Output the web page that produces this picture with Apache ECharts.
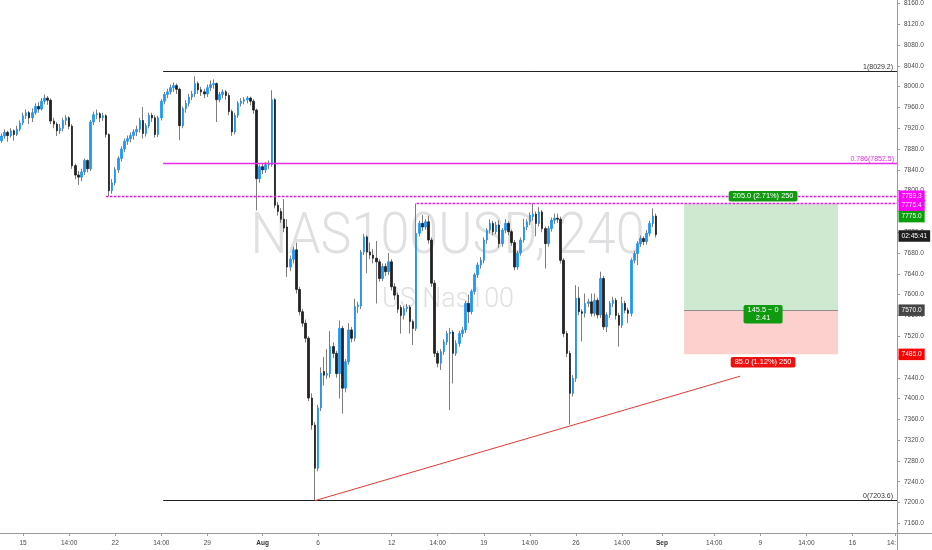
<!DOCTYPE html>
<html><head><meta charset="utf-8">
<script src="https://cdn.jsdelivr.net/npm/echarts@6/dist/echarts.min.js"></script>
<style>html,body{margin:0;padding:0;background:#fff}#c{width:932px;height:550px}</style>
</head><body><div id="c"></div>
<script>
// 4H candles: [open, close, low, high]
const candles = [
[7896,7905,7892,7910],[7905,7912,7900,7918],[7912,7906,7894,7915],[7906,7915,7902,7920],[7915,7908,7896,7918],
[7908,7918,7905,7925],[7918,7930,7914,7935],[7930,7944,7926,7950],[7944,7950,7938,7956],[7950,7940,7928,7953],
[7940,7950,7932,7958],[7950,7962,7946,7968],[7962,7957,7950,7970],[7957,7972,7954,7978],[7972,7978,7966,7985],
[7978,7974,7965,7982],[7974,7934,7928,7977],[7934,7928,7920,7940],[7928,7915,7905,7932],[7915,7920,7909,7928],
[7920,7935,7914,7940],[7935,7940,7926,7945],[7940,7924,7918,7943],[7924,7848,7842,7928],[7848,7830,7822,7852],
[7830,7826,7811,7838],[7826,7836,7818,7842],[7836,7858,7830,7862],[7858,7842,7835,7860],[7842,7932,7838,7936],
[7932,7946,7926,7952],[7946,7948,7938,7956],[7948,7940,7932,7951],[7940,7944,7934,7950],[7944,7908,7902,7947],
[7908,7800,7789.3,7910],[7800,7815,7794,7822],[7815,7840,7810,7845],[7840,7862,7834,7866],[7862,7880,7856,7885],
[7880,7895,7874,7900],[7895,7900,7888,7906],[7900,7906,7893,7912],[7906,7913,7898,7918],[7913,7918,7905,7925],
[7918,7935,7912,7940],[7935,7910,7900,7961],[7910,7925,7904,7930],[7925,7945,7920,7950],[7945,7940,7932,7950],
[7940,7908,7902,7945],[7908,7940,7903,7944],[7940,7972,7935,7976],[7972,7985,7966,7990],[7985,7990,7978,7996],
[7990,7998,7985,8004],[7998,8002,7990,8008],[8002,7995,7986,8006],[7995,7925,7897,7998],[7925,7958,7920,7962],
[7958,7968,7950,7974],[7968,7980,7962,7986],[7980,7986,7974,7992],[7986,8006,7980,8020],[8006,7994,7986,8010],
[7994,7990,7982,8000],[7990,7986,7978,7996],[7986,7998,7980,8004],[7998,8004,7992,8012],[8004,8006,7996,8014],
[8006,7975,7932,8008],[7975,7985,7970,7990],[7985,7990,7978,7995],[7990,7983,7975,7994],[7983,7952,7945,7988],
[7952,7913,7905,7956],[7913,7945,7908,7950],[7945,7968,7940,7972],[7968,7972,7962,7978],[7972,7975,7966,7980],
[7975,7978,7968,7982],[7978,7972,7964,7981],[7972,7955,7948,7976],[7955,7823,7762,7958],[7823,7846,7815,7850],
[7846,7840,7832,7852],[7840,7850,7834,7855],[7850,7852,7842,7858],[7850,7975,7846,7993],[7975,7772,7766,7978],
[7772,7760,7752,7778],[7760,7745,7738,7766],[7745,7728,7720,7784],[7730,7653,7634,7745],[7653,7668,7645,7675],
[7668,7686,7660,7692],[7686,7610,7602,7700],[7610,7567,7560,7615],[7567,7545,7538,7572],[7545,7516,7508,7552],
[7516,7401,7395,7520],[7401,7349,7340,7410],[7349,7266,7203.6,7355],[7266,7382,7260,7388],[7382,7449,7376,7460],
[7452,7445,7425,7480],[7445,7448,7438,7495],[7448,7500,7440,7530],[7500,7487,7478,7508],[7487,7448,7440,7492],
[7448,7535,7400,7550],[7535,7420,7371,7540],[7420,7471,7412,7476],[7471,7532,7465,7545],[7532,7516,7508,7538],
[7516,7577,7510,7592],[7577,7580,7565,7586],[7578,7682,7572,7686],[7682,7711,7676,7717],[7711,7682,7641,7714],
[7682,7676,7668,7700],[7676,7670,7660,7688],[7670,7663,7583,7703],[7663,7631,7625,7668],[7631,7654,7626,7660],
[7654,7644,7636,7660],[7644,7663,7638,7680],[7663,7615,7608,7668],[7615,7599,7590,7622],[7599,7572,7565,7604],
[7575,7560,7525,7580],[7560,7573,7552,7578],[7573,7576,7566,7582],[7576,7548,7525,7580],[7548,7535,7503,7552],
[7535,7718,7530,7775.4],[7718,7737,7712,7742],[7737,7730,7722,7753],[7730,7740,7725,7745],[7740,7705,7698,7752],
[7705,7622,7615,7710],[7622,7487,7480,7628],[7487,7468,7460,7492],[7468,7490,7455,7495],[7490,7509,7484,7514],
[7509,7525,7503,7530],[7525,7528,7378,7536],[7528,7487,7429,7532],[7487,7506,7482,7512],[7506,7525,7500,7530],
[7525,7532,7518,7538],[7532,7583,7526,7588],[7583,7567,7545,7600],[7567,7606,7562,7610],[7606,7638,7600,7642],
[7638,7657,7632,7662],[7657,7666,7650,7672],[7666,7705,7660,7710],[7705,7724,7698,7728],[7724,7737,7718,7745],
[7737,7721,7714,7742],[7721,7734,7716,7740],[7734,7698,7690,7743],[7698,7724,7692,7728],[7724,7737,7718,7745],
[7737,7721,7714,7741],[7721,7700,7694,7725],[7700,7653,7647,7705],[7653,7680,7648,7684],[7680,7705,7675,7710],
[7705,7730,7700,7746],[7730,7740,7724,7745],[7740,7753,7734,7758],[7750,7755,7742,7775.4],[7755,7737,7712,7760],
[7737,7759,7731,7768],[7759,7727,7720,7763],[7727,7698,7650,7731],[7698,7727,7692,7732],[7727,7743,7721,7748],
[7743,7747,7736,7756],[7747,7745,7738,7756],[7745,7666,7660,7750],[7666,7525,7518,7670],[7525,7487,7480,7530],
[7487,7410,7350,7492],[7410,7439,7404,7445],[7439,7593,7432,7618],[7593,7567,7560,7615],[7567,7564,7510,7572],
[7564,7583,7556,7602],[7583,7586,7576,7592],[7586,7564,7558,7602],[7564,7589,7558,7602],[7589,7561,7554,7594],
[7561,7631,7555,7644],[7631,7538,7532,7636],[7538,7561,7528,7566],[7561,7583,7555,7588],[7583,7589,7576,7596],
[7589,7560,7552,7594],[7560,7541,7500,7565],[7541,7583,7536,7596],[7583,7570,7564,7588],[7570,7564,7545,7575],
[7564,7666,7558,7670],[7666,7679,7660,7684],[7679,7698,7657,7703],[7698,7708,7692,7714],[7708,7702,7695,7712],
[7702,7718,7696,7724],[7718,7737,7712,7742],[7737,7751,7730,7766],[7751,7715.5,7710,7756]
];
// x-axis tick labels: [slot index, text]
const xTicks = [[7,'15'],[22,'14:00'],[37,'22'],[52,'14:00'],[67,'29'],[85,'Aug'],[103,'6'],[127,'12'],[142,'14:00'],
  [157,'19'],[172,'14:00'],[187,'26'],[202,'14:00'],[215,'Sep'],[232,'14:00'],[247,'9'],[262,'14:00'],[277,'16'],[291,'14:']];
const totalSlots = 292;
// price axis range
const priceMin = 7120, priceMax = 8166.3, priceStep = 40;
// Fibonacci levels
const fibHigh = 8029.2, fibLow = 7203.6, fib786 = 7852.5;
// horizontal key levels
const level1 = 7789.3, level2 = 7775.4;
// long position
const entry = 7570.0, target = 7775.0, stop = 7485.0, qty = 250;
// trend line anchors [slot, price]
const trendStart = [102.5, 7203.6], trendEnd = [240.9, 7443.0];
const countdown = '02:45:41';
const watermark1 = 'NAS100USD, 240', watermark2 = 'US Nas100';

const lastClose = candles[candles.length - 1][1];
const cats = Array.from({length: totalSlots}, (_, i) => 's' + i);
const tickMap = {}; xTicks.forEach(([i, t]) => tickMap[i] = t);
const showTick = (idx) => tickMap[idx] !== undefined;

const MAG = '#e62ee6', MAGD = '#e020e0';
const font = 'Liberation Sans, Arial, sans-serif';
const chart = echarts.init(document.getElementById('c'), null, {renderer: 'canvas'});

function axLabel(v, bg, dy) {
  return {name: 'a', coord: [totalSlots, v], symbol: 'rect', symbolSize: 1, itemStyle: {color: 'rgba(0,0,0,0)'},
    label: {show: true, position: 'right', distance: 1, offset: [0, dy], formatter: typeof bg.text === 'string' ? bg.text : v.toFixed(1),
      backgroundColor: bg.c, color: '#fff', fontSize: 6.6, fontFamily: font, padding: [2, 3, 1.5, 3], lineHeight: 8}};
}
function boxLabel(v, text, c, dy) {
  return {name: 'b', coord: [248.4, v], symbol: 'rect', symbolSize: 1, itemStyle: {color: 'rgba(0,0,0,0)'},
    label: {show: true, position: 'inside', offset: [0, dy], formatter: text, backgroundColor: c, color: '#fff',
      fontSize: 7.4, fontFamily: font, padding: [1.5, 4, 1, 4], borderRadius: 2, lineHeight: 8, align: 'center'}};
}
function hLine(x1, v, style, label) {
  return [{coord: [x1, v], lineStyle: style, label: label || {show: false}}, {coord: [totalSlots, v]}];
}
const profit = target - entry, risk = entry - stop;

const option = {
  animation: false,
  backgroundColor: '#ffffff',
  grid: {left: 0, right: 35, top: 0, bottom: 5.9, containLabel: false},
  xAxis: [{
    type: 'category', data: cats, boundaryGap: true, position: 'bottom', offset: -11.1,
    axisLine: {show: true, onZero: false, lineStyle: {color: '#9a9a9a', width: 1}},
    axisTick: {show: true, alignWithLabel: true, interval: showTick, length: 3, lineStyle: {color: '#9a9a9a'}},
    axisLabel: {interval: showTick, margin: 7, fontSize: 6.5, color: '#4a4a4a', fontFamily: font,
      formatter: (v, idx) => {
        const t = tickMap[idx]; if (t === undefined) return '';
        if (t === 'Aug' || t === 'Sep') return '{b|' + t + '}';
        if (t === '14:') return '{cut|' + t + '}';
        return t;
      },
      rich: {b: {fontWeight: 'bold', color: '#333', fontSize: 6.5, fontFamily: font}, cut: {padding: [0, 8, 0, 0], fontSize: 6.5, color: '#4a4a4a', fontFamily: font}}},
    splitLine: {show: false}
  }, {
    type: 'value', min: 0, max: totalSlots, show: false, axisLine: {onZero: false}
  }],
  yAxis: {
    type: 'value', position: 'right', min: priceMin, max: priceMax, interval: priceStep,
    axisLine: {show: true, onZero: false, lineStyle: {color: '#9a9a9a'}},
    axisTick: {show: true, length: 3, lineStyle: {color: '#9a9a9a'}},
    axisLabel: {show: true, margin: 7, fontSize: 6.5, color: '#4a4a4a', fontFamily: font, showMinLabel: false, showMaxLabel: false,
      formatter: v => v.toFixed(1)},
    splitLine: {show: false}
  },
  graphic: [
    {type: 'text', z: 0, x: 447.5, y: 239, scaleX: 0.915, style: {text: watermark1, x: 0, y: 0, align: 'center', verticalAlign: 'middle',
      font: '300 57px Roboto', fill: '#e0e0e3'}},
    {type: 'text', z: 0, x: 448, y: 300, scaleX: 0.96, style: {text: watermark2, x: 0, y: 0, align: 'center', verticalAlign: 'middle',
      font: '300 28px Roboto', fill: '#e0e0e3'}},
    {type: 'line', z: 5, shape: {x1: 897, y1: 533.5, x2: 932, y2: 533.5}, style: {stroke: '#9a9a9a', lineWidth: 1}},
    {type: 'line', z: 5, shape: {x1: 897.5, y1: 533, x2: 897.5, y2: 550}, style: {stroke: '#9a9a9a', lineWidth: 1}}
  ],
  series: [
    {
      type: 'candlestick', name: 'wick', xAxisIndex: 0, barWidth: 1, z: 3,
      data: candles.map(([o, c, l, h]) => [o, c, l, h]),
      itemStyle: {color: '#7d7d7d', color0: '#7d7d7d', borderColor: '#7d7d7d', borderColor0: '#7d7d7d', borderColorDoji: '#7d7d7d', borderWidth: 1},
      emphasis: {disabled: true}
    },
    {
      type: 'candlestick', name: 'body', xAxisIndex: 0, barWidth: 2, z: 4,
      data: candles.map(([o, c]) => [o, c, Math.min(o, c), Math.max(o, c)]),
      itemStyle: {color: '#2196f3', color0: '#222222', borderColor: '#2196f3', borderColor0: '#222222', borderColorDoji: '#222222', borderWidth: 0.8},
      emphasis: {disabled: true}
    },
    {
      type: 'line', name: 'overlay', xAxisIndex: 1, yAxisIndex: 0, z: 5,
      data: [[0, null]], symbol: 'none', silent: true,
      markArea: {silent: true, data: [
        [{coord: [222.7, target], itemStyle: {color: 'rgba(76,175,80,0.27)'}}, {coord: [272.8, entry]}],
        [{coord: [222.7, entry], itemStyle: {color: 'rgba(244,67,54,0.25)'}}, {coord: [272.8, stop]}]
      ]},
      markLine: {silent: true, symbol: ['none', 'none'], animation: false, label: {show: false},
        data: [
          hLine(53.1, fibHigh, {color: '#222', width: 1, type: 'solid'},
            {show: true, position: 'insideEndTop', distance: [4, 1], formatter: '1(' + fibHigh.toFixed(1) + ')', color: '#333', fontSize: 7, fontFamily: font}),
          hLine(53.1, fibLow, {color: '#222', width: 1, type: 'solid'},
            {show: true, position: 'insideEndTop', distance: [4, 1], formatter: '0(' + fibLow.toFixed(1) + ')', color: '#333', fontSize: 7, fontFamily: font}),
          hLine(53.1, fib786, {color: MAG, width: 1.3, type: 'solid'},
            {show: true, position: 'insideEndTop', distance: [3, 1], formatter: '0.786(' + fib786.toFixed(1) + ')', color: MAG, fontSize: 7, fontFamily: font}),
          hLine(34.5, level1, {color: MAGD, width: 1.4, type: [2.5, 1.5]}),
          hLine(135.6, level2, {color: MAGD, width: 1.4, type: [2.5, 1.5]}),
          [{coord: [222.7, entry], lineStyle: {color: '#8c8c8c', width: 1, type: 'solid'}}, {coord: [272.8, entry]}],
          [{coord: trendStart, lineStyle: {color: '#e53935', width: 1, type: 'solid'}}, {coord: trendEnd}]
        ]},
      markPoint: {silent: true, animation: false, data: [
        boxLabel(target, profit.toFixed(1) + ' (' + (profit / entry * 100).toFixed(2) + '%) ' + qty, '#109a10', -7.5),
        boxLabel(entry, (lastClose - entry).toFixed(1) + ' ~ 0\n' + (profit / risk).toFixed(2), '#109a10', 4),
        boxLabel(stop, risk.toFixed(1) + ' (' + (risk / entry * 100).toFixed(2) + '%) ' + qty, '#ee1111', 8),
        axLabel(level1, {c: '#ff00ff'}, 0),
        axLabel(level2, {c: '#ff00ff'}, 2),
        axLabel(target, {c: '#0a9e0a'}, 13),
        axLabel(lastClose, {c: '#1e1e1e', text: countdown}, 1.5),
        axLabel(entry, {c: '#454545'}, 0),
        axLabel(stop, {c: '#ff0000'}, 0)
      ]}
    }
  ]
};
chart.setOption(option);
</script>
</body></html>
